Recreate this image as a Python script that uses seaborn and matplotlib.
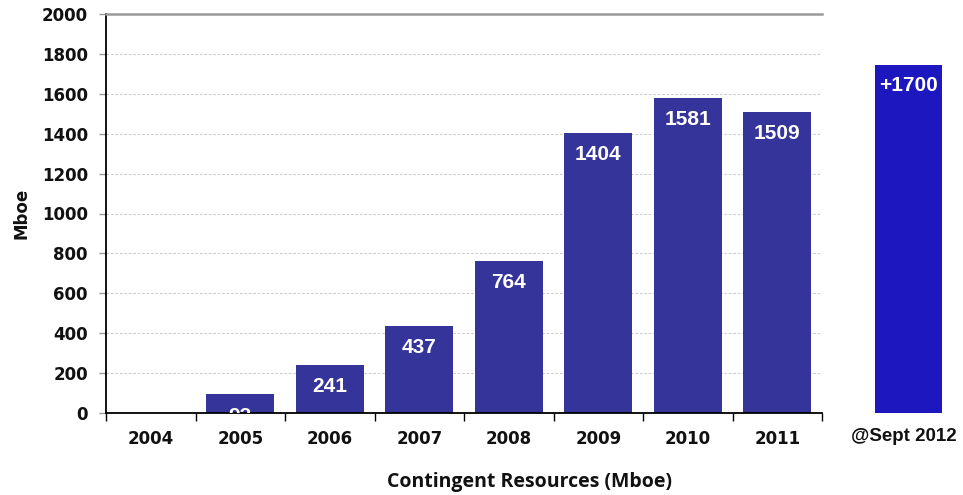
import matplotlib
matplotlib.use("Agg")
import matplotlib.pyplot as plt
import seaborn as sns
import pandas as pd
import numpy as np

years = ["2004", "2005", "2006", "2007", "2008", "2009", "2010", "2011"]
values = [0, 93, 241, 437, 764, 1404, 1581, 1509]
labels = ["", "93", "241", "437", "764", "1404", "1581", "1509"]
extra_category = ["@Sept 2012"]
extra_value = [1745]
extra_label = ["+1700"]
yticks = [0, 200, 400, 600, 800, 1000, 1200, 1400, 1600, 1800, 2000]

sns.set_theme(style="white")
plt.rcParams['font.family'] = ['Liberation Sans', 'DejaVu Sans']

W, H = 963, 495
fig = plt.figure(figsize=(W / 100, H / 100), dpi=100)
ax = fig.add_axes([106 / W, (H - 413) / H, (822 - 106) / W, (413 - 14) / H])

df = pd.DataFrame({"year": years, "value": values})
sns.barplot(data=df, x="year", y="value", color="#34349a", saturation=1,
            width=0.76, ax=ax)
for p in ax.patches:
    p.set_edgecolor("none")

ax.set_ylim(0, 2000)
ax.set_xlim(-0.5, len(years) - 0.5)
ax.set_yticks(yticks)
ax.set_yticklabels([str(t) for t in yticks], fontfamily="DejaVu Sans",
                   fontweight="bold", fontsize=12, color="#111111")
ax.set_xticks(range(len(years)))
ax.set_xticklabels(years, fontfamily="DejaVu Sans", fontweight="bold",
                   fontsize=12, color="#111111")
ax.tick_params(axis="x", length=0, pad=12)
ax.tick_params(axis="y", left=True, length=5, width=1, color="#999999", pad=8)
ax.set_xticks(np.arange(-0.5, len(years)), minor=True)
ax.tick_params(axis="x", which="minor", bottom=True, length=6, width=1,
               color="#000000", direction="out")

for t in yticks[1:-1]:
    ax.axhline(t, color="#cfcfcf", lw=0.8, ls=(0, (2.5, 1.5)), zorder=0)
ax.set_axisbelow(True)

ax.spines["right"].set_visible(False)
ax.spines["top"].set_color("#999999")
ax.spines["top"].set_linewidth(1.8)
ax.spines["left"].set_color("#000000")
ax.spines["left"].set_linewidth(1.3)
ax.spines["bottom"].set_color("#000000")
ax.spines["bottom"].set_linewidth(1.3)

for i, (v, lab) in enumerate(zip(values, labels)):
    if lab:
        ax.text(i, v - 110, lab, ha="center", va="center", color="white",
                fontweight="bold", fontsize=15, clip_on=True)

ax.set_ylabel("Mboe", fontfamily="DejaVu Sans", fontweight="bold",
              fontsize=12, color="#111111", labelpad=8)
ax.set_xlabel("")
fig.text(529 / W, (H - 482) / H, "Contingent Resources (Mboe)",
         fontfamily="Open Sans", fontweight="bold", fontsize=14,
         ha="center", va="center", color="#111111")

# separate bar
ax2 = fig.add_axes([850 / W, (H - 413) / H, 116 / W, (413 - 14) / H])
df2 = pd.DataFrame({"cat": extra_category, "value": extra_value})
sns.barplot(data=df2, x="cat", y="value", color="#1c17bf", saturation=1,
            width=67 / 116, ax=ax2)
for p in ax2.patches:
    p.set_edgecolor("none")
ax2.set_ylim(0, 2000)
ax2.set_xlim(-0.5, 0.5)
ax2.set_yticks([])
ax2.set_xticks([-0.04])
ax2.set_xticklabels(extra_category, fontsize=13.5, fontweight="bold",
                    fontfamily="Liberation Sans", color="#111111")
ax2.tick_params(axis="x", length=0, pad=11)
ax2.set_xlabel("")
ax2.set_ylabel("")
for s in ax2.spines.values():
    s.set_visible(False)
ax2.patch.set_alpha(0)
ax2.text(0, extra_value[0] - 105, extra_label[0], ha="center", va="center",
         color="white", fontweight="bold", fontsize=15)

fig.savefig("out.png", dpi=100)
